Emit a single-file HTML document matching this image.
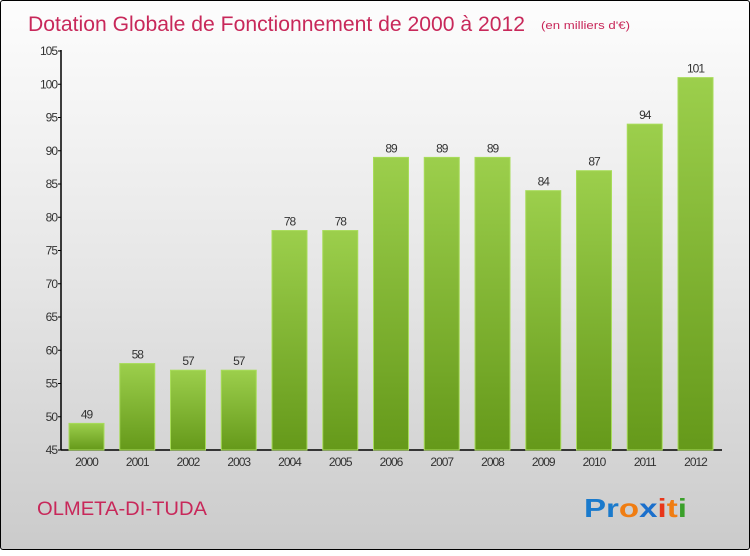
<!DOCTYPE html>
<html><head><meta charset="utf-8"><style>
body{margin:0;width:750px;height:550px;overflow:hidden;font-family:"Liberation Sans",sans-serif}
#frame{position:absolute;left:0;top:0;width:748px;height:548px;border:1px solid #000;border-radius:3px;background:linear-gradient(#fdfdfd,#e6e6e6 50%,#cbcbcb)}
</style></head><body>
<div id="frame">
<svg width="750" height="550">
<defs><linearGradient id="g" x1="0" y1="0" x2="0" y2="1"><stop offset="0" stop-color="#9ccf4c"/><stop offset="1" stop-color="#65991a"/></linearGradient></defs>
<text x="27" y="30" font-size="21" fill="#c8285a" textLength="497" lengthAdjust="spacingAndGlyphs">Dotation Globale de Fonctionnement de 2000 à 2012</text>
<text x="540" y="28" font-size="11" fill="#c8285a" textLength="89" lengthAdjust="spacingAndGlyphs">(en milliers d'€)</text>
<g id="axes"></g><g id="bars"></g>
<text x="36" y="514" font-size="19" fill="#c8285a" textLength="170" lengthAdjust="spacingAndGlyphs">OLMETA-DI-TUDA</text>
<text x="583" y="516" font-size="26" font-weight="bold" textLength="103" lengthAdjust="spacingAndGlyphs"><tspan fill="#1a7acc">Pr</tspan><tspan fill="#f07d12">o</tspan><tspan fill="#1a6fcc">x</tspan><tspan fill="#e8361a">i</tspan><tspan fill="#f07d12">t</tspan><tspan fill="#3aa02a">i</tspan></text>
</svg></div>
<script>
const categories=["2000","2001","2002","2003","2004","2005","2006","2007","2008","2009","2010","2011","2012"];
const values=[49,58,57,57,78,78,89,89,89,84,87,94,101];
const yTicks=[45,50,55,60,65,70,75,80,85,90,95,100,105];
const NS="http://www.w3.org/2000/svg";
const y0=449,yMin=45,pxPer=(449-50)/60;
function yS(v){return y0-(v-yMin)*pxPer;}
function xS(i){return 68+i*50.75;}
function mk(t,a,p,txt){const e=document.createElementNS(NS,t);for(const k in a)e.setAttribute(k,a[k]);if(txt!=null)e.textContent=txt;p.appendChild(e);return e;}
const ax=document.getElementById('axes'),bs=document.getElementById('bars');
const yl=mk('line',{x1:60,y1:49,x2:60,y2:y0,stroke:'#000','stroke-width':1.5},ax);


const xl=mk('line',{x1:60,y1:y0,x2:721,y2:y0,stroke:'#000','stroke-width':1.5},ax);


yTicks.forEach(t=>{const y=yS(t);mk('line',{x1:57,y1:y,x2:60,y2:y,stroke:'#000'},ax);
const l=mk('text',{x:56,y:y+4,'font-size':12,'text-anchor':'end',fill:'#333','letter-spacing':'-1'},ax,t);

});
categories.forEach((c,i)=>{const x=xS(i),v=values[i],y=yS(v);
const r=mk('rect',{x:x,y:y,width:35,height:y0-y,fill:'url(#g)',stroke:'#a8dc5a','stroke-width':1},bs);


const vl=mk('text',{x:x+17.5,y:y-5,'font-size':12,'text-anchor':'middle',fill:'#333','letter-spacing':'-1'},bs,v);


const xl2=mk('text',{x:x+17.5,y:y0+16,'font-size':12,'text-anchor':'middle',fill:'#333','letter-spacing':'-1'},bs,c);

});
</script>
</body></html>
